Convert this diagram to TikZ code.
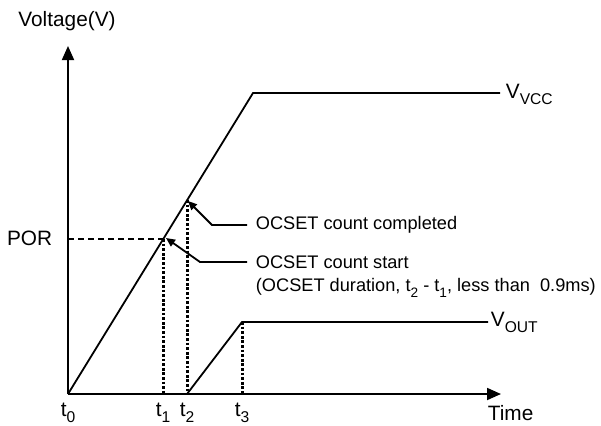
\documentclass[tikz,border=0pt]{standalone}
\usepackage{fontspec}
\setmainfont{Liberation Sans}
\usetikzlibrary{arrows.meta,positioning}
\newcommand{\lowsub}[1]{\raisebox{-0.55ex}{\fontsize{0.75em}{1em}\selectfont #1}}

\begin{document}
\begin{tikzpicture}[x=0.5pt, y=-0.5pt, line width=0.9pt,
  every node/.style={font=\fontsize{10.4}{12}\selectfont},
  axis/.style={-{Triangle[length=7pt,width=6pt]}},
  dotline/.style={line width=1.5pt, dash pattern=on 1.4pt off 0.9pt},
  porline/.style={dash pattern=on 3pt off 2pt},
  callout/.style={-{Triangle[length=4.5pt,width=4pt]}},
  lbl/.style={anchor=west, inner xsep=4pt, inner ysep=1pt, font=\fontsize{9.1}{11}\selectfont},
  tick/.style={inner sep=0pt, anchor=north}]

    \useasboundingbox (0,0) rectangle (601,425);

    % axes
    \coordinate (o) at (68,394);
    \coordinate (ytop) at (68,46);
    \coordinate (xend) at (501,394);
    \draw[axis] (o) -- (ytop);
    \draw[axis] (o) -- (xend);
    \node (volt) at (67,21) {Voltage(V)};
    \node (time) [anchor=west, inner sep=0pt] at (487,413) {Time};

    % V_VCC ramp
    \coordinate (vcctop) at (253,93);
    \coordinate (vccend) at (500,93);
    \draw (o) -- (vcctop) -- (vccend);
    \node (vcc) [anchor=base west, inner sep=0pt] at (505,98) {V\lowsub{VCC}};

    % V_OUT ramp
    \coordinate (t1) at (163,394);
    \coordinate (t2) at (187,394);
    \coordinate (t3) at (242,394);
    \coordinate (vouttop) at (242,322);
    \coordinate (voutend) at (488,322);
    \draw (t2) -- (vouttop) -- (voutend);
    \node (vout) [anchor=base west, inner sep=0pt] at (490,326) {V\lowsub{OUT}};

    % POR level and time marks
    \coordinate (poraxis) at (68,239);
    \coordinate (t1top) at (163,239);
    \coordinate (t2top) at (187,200);
    \node (por) [anchor=east, inner sep=0pt] at (53,238) {POR};
    \draw[porline] (poraxis) -- (t1top);
    \draw[dotline] (t1top) -- (t1);
    \draw[dotline] (t2top) -- (t2);
    \draw[dotline] (vouttop) -- (t3);

    \node (l0) [tick, below=4pt of o] {t\lowsub{0}};
    \node (l1) [tick, below=4pt of t1] {t\lowsub{1}};
    \node (l2) [tick, below=4pt of t2] {t\lowsub{2}};
    \node (l3) [tick, below=4pt of t3] {t\lowsub{3}};

    % callouts
    \coordinate (tip1) at (188,201);
    \coordinate (elbow1) at (212,225);
    \coordinate (tip2) at (166,238);
    \coordinate (elbow2) at (200,262);
    \node (cmpl) [lbl] at (247,225) {OCSET count completed};
    \node (start) [lbl] at (247,262) {OCSET count start};
    \node (dur) [lbl] at (247,288) {(OCSET duration, t\lowsub{2} - t\lowsub{1}, less than\ \ 0.9ms)};
    \draw[callout] (cmpl.west) -- (elbow1) -- (tip1);
    \draw[callout] (start.west) -- (elbow2) -- (tip2);

\end{tikzpicture}
\end{document}
